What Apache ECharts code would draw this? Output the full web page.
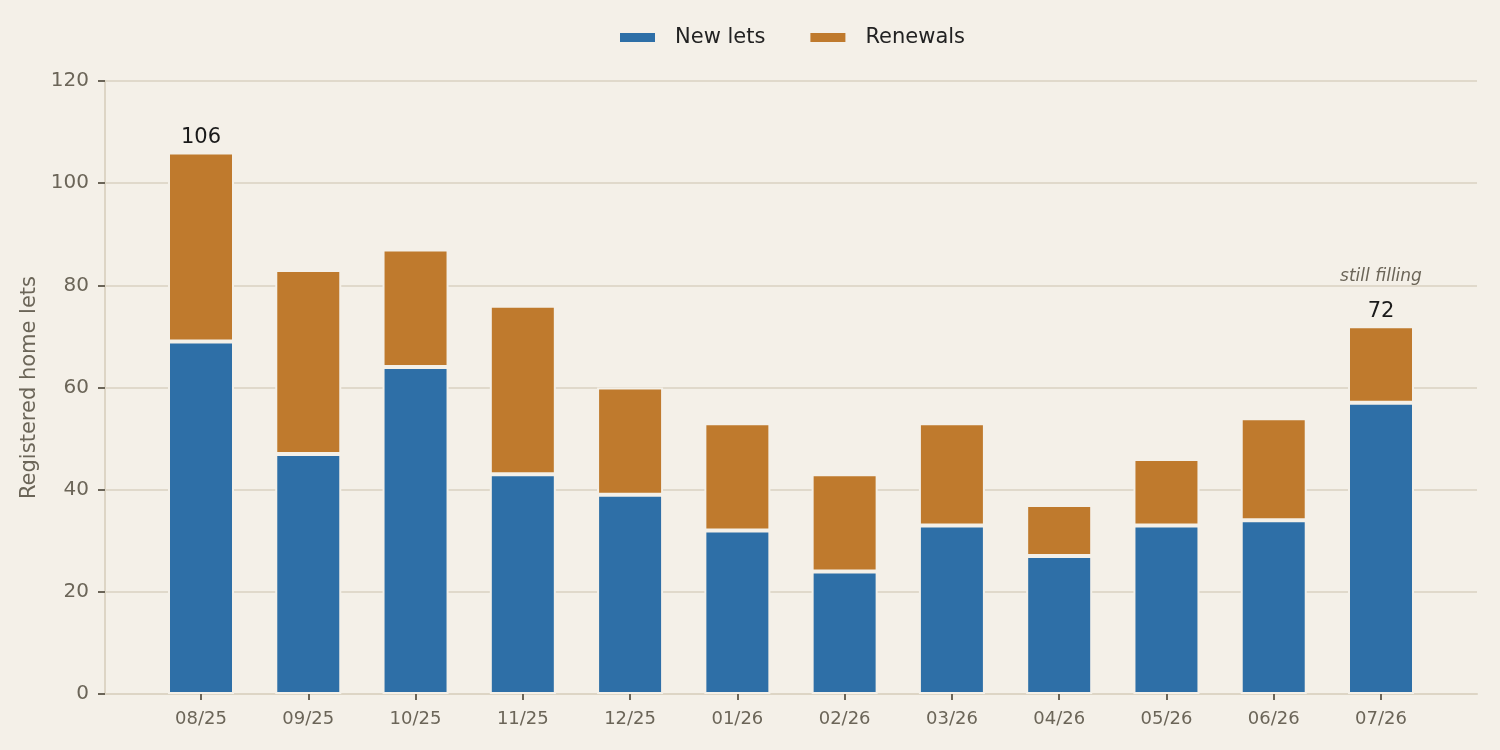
<!DOCTYPE html>
<html>
<head>
<meta charset="utf-8">
<script src="https://cdn.jsdelivr.net/npm/echarts@6/dist/echarts.min.js"></script>
<style>
  html, body { margin: 0; padding: 0; background: #f4f0e8; }
  #main { width: 1500px; height: 750px; }
</style>
</head>
<body>
<div id="main"></div>
<script>
// data
var months = ['08/25', '09/25', '10/25', '11/25', '12/25', '01/26', '02/26', '03/26', '04/26', '05/26', '06/26', '07/26'];
var newLets = [69, 47, 64, 43, 39, 32, 24, 33, 27, 33, 34, 57];
var renewals = [37, 36, 23, 33, 21, 21, 19, 20, 10, 13, 20, 15];
var labelled = [0, 11];
var notes = { 11: 'still filling' };

var bg = '#f4f0e8';
var muted = '#6b6558';
var axisCol = '#ddd5c5';

var dom = document.getElementById('main');
var myChart = echarts.init(dom);

// renewals carry the total labels on top of the stack
var renData = renewals.map(function (v, i) {
    var item = { value: v };
    if (labelled.indexOf(i) >= 0) {
        var txt = '{v|' + (v + newLets[i]) + '}';
        if (notes[i]) txt = '{n|' + notes[i] + '}\n' + txt;
        item.label = {
            show: true,
            position: 'top',
            distance: 2,
            formatter: txt,
            rich: {
                v: { fontSize: 21, color: '#1a1a1a', fontFamily: 'DejaVu Sans', lineHeight: 26 },
                n: { fontSize: 17, color: muted, fontStyle: 'italic', fontFamily: 'DejaVu Sans', lineHeight: 44 }
            }
        };
    }
    return item;
});

// outer grid holds the frame + y scale, inner grid is padded so bars sit in from the edges
var step = (1381 - 201) / (months.length - 1);

var option = {
    backgroundColor: bg,
    animation: false,
    textStyle: { fontFamily: 'DejaVu Sans' },
    legend: {
        top: 22,
        left: 613,
        icon: 'rect',
        itemWidth: 37,
        itemHeight: 11,
        itemGap: 43,
        textStyle: { fontSize: 21, color: '#222', fontFamily: 'DejaVu Sans', padding: [0, 0, 0, 14] },
        data: ['New lets', 'Renewals']
    },
    grid: [
        { left: 105, right: 23, top: 81, bottom: 56 },
        { left: 201 - step / 2, right: 1500 - (1381 + step / 2), top: 81, bottom: 56 }
    ],
    xAxis: [
        {
            gridIndex: 0,
            type: 'value',
            min: 0,
            max: 1,
            splitLine: { show: false },
            axisLine: { show: true, onZero: false, lineStyle: { color: axisCol, width: 2 } },
            axisTick: { show: false },
            axisLabel: { show: false }
        },
        {
            gridIndex: 1,
            type: 'category',
            data: months,
            axisLine: { show: false },
            axisTick: { show: true, alignWithLabel: true, length: 6, lineStyle: { color: muted, width: 2 } },
            axisLabel: { fontSize: 18, color: muted, margin: 16 }
        }
    ],
    yAxis: [
        {
            gridIndex: 0,
            type: 'value',
            min: 0,
            max: 120,
            interval: 20,
            name: 'Registered home lets',
            nameLocation: 'middle',
            nameGap: 62,
            nameTextStyle: { fontSize: 21, color: muted },
            axisLine: { show: true, onZero: false, lineStyle: { color: axisCol, width: 2 } },
            axisTick: { show: true, length: 7, lineStyle: { color: muted, width: 2 } },
            axisLabel: { fontSize: 20, color: muted, margin: 16 },
            splitLine: { show: true, lineStyle: { color: '#e0d9cb', width: 2 } }
        },
        {
            gridIndex: 1,
            type: 'value',
            min: 0,
            max: 120,
            interval: 20,
            show: false
        }
    ],
    series: [
        {
            name: 'New lets',
            type: 'bar',
            stack: 'total',
            xAxisIndex: 1,
            yAxisIndex: 1,
            barWidth: 66,
            itemStyle: { color: '#2e6fa7', borderColor: bg, borderWidth: 2 },
            data: newLets
        },
        {
            name: 'Renewals',
            type: 'bar',
            stack: 'total',
            xAxisIndex: 1,
            yAxisIndex: 1,
            barWidth: 66,
            itemStyle: { color: '#bf7a2d', borderColor: bg, borderWidth: 2 },
            data: renData
        }
    ]
};

myChart.setOption(option);
</script>
</body>
</html>
